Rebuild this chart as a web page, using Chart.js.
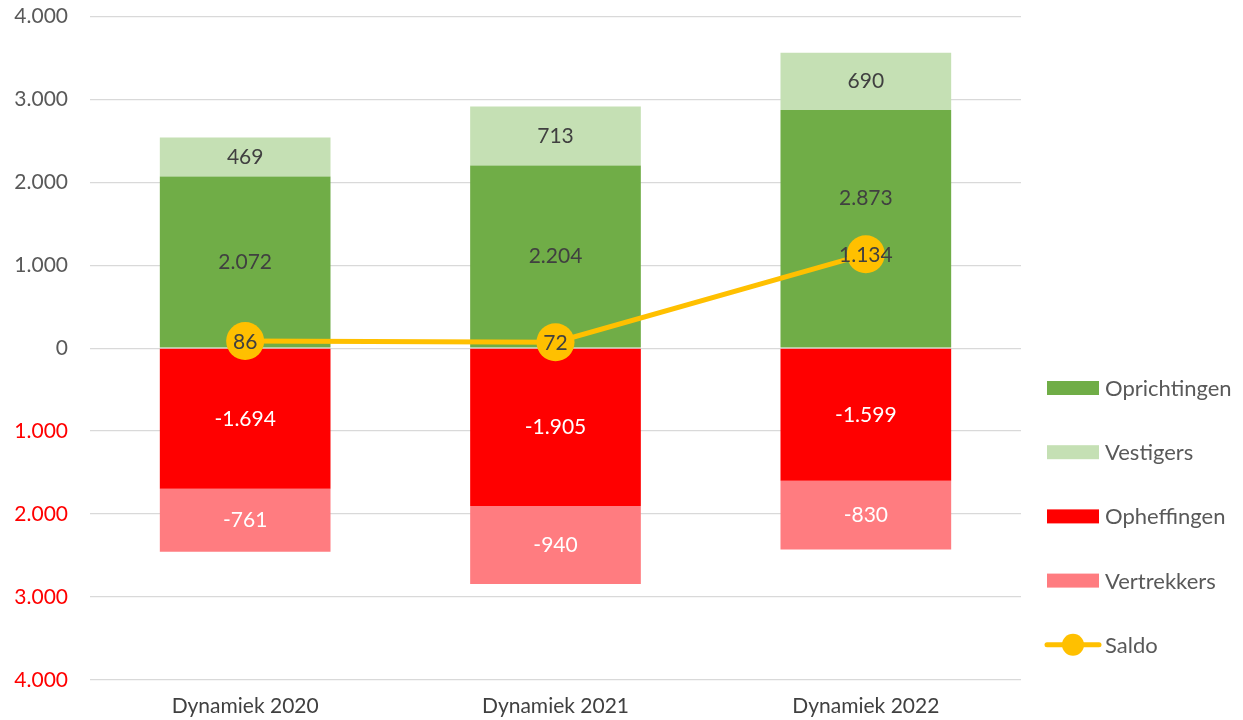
<!DOCTYPE html>
<html lang="nl">
<head>
<meta charset="UTF-8">
<title>Dynamiek</title>
<script src="https://cdn.jsdelivr.net/npm/chart.js"></script>
<style>
    body { margin: 0; background: #fff; }
    #wrap { width: 1243px; height: 720px; }
</style>
</head>
<body>
<div id="wrap"><canvas id="chart"></canvas></div>
<script>
const years = ['Dynamiek 2020', 'Dynamiek 2021', 'Dynamiek 2022'];
const oprichtingen = [2072, 2204, 2873];
const vestigers = [469, 713, 690];
const opheffingen = [-1694, -1905, -1599];
const vertrekkers = [-761, -940, -830];
const saldo = [86, 72, 1134];
const yTicks = [-4000, -3000, -2000, -1000, 0, 1000, 2000, 3000, 4000];

const FONT = 'Lato, "Open Sans", sans-serif';
const fmt = v => Math.abs(v).toString().replace(/\B(?=(\d{3})+(?!\d))/g, '.');
const fmtSigned = v => (v < 0 ? '-' : '') + fmt(v);

const labelColors = ['#404040', '#404040', '#ffffff', '#ffffff'];

// labels in the middle of each bar piece, saldo label on the marker
const labelPlugin = {
    id: 'labels',
    afterDatasetsDraw(chart) {
        const ctx = chart.ctx;
        ctx.save();
        ctx.font = '21px ' + FONT;
        ctx.textAlign = 'center';
        ctx.textBaseline = 'middle';
        const lineMeta = chart.getDatasetMeta(4);
        for (let d = 0; d < 4; d++) {
            const meta = chart.getDatasetMeta(d);
            meta.data.forEach((bar, i) => {
                const v = chart.data.datasets[d].data[i];
                let y = (bar.y + bar.base) / 2;
                const pt = lineMeta.data[i];
                if (Math.abs(y - pt.y) < 40) y = pt.y - 56;
                ctx.fillStyle = labelColors[d];
                ctx.fillText(fmtSigned(v), bar.x, y);
            });
        }
        lineMeta.data.forEach((pt, i) => {
            ctx.fillStyle = '#404040';
            ctx.fillText(fmtSigned(saldo[i]), pt.x, pt.y + 1);
        });
        ctx.restore();
    }
};

// legend on the right like excel
const legendPlugin = {
    id: 'sideLegend',
    afterDraw(chart) {
        const ctx = chart.ctx;
        ctx.save();
        ctx.font = '22px ' + FONT;
        ctx.textBaseline = 'middle';
        chart.data.datasets.forEach((ds, k) => {
            const y = 388 + k * 64.2;
            if (ds.type === 'line') {
                ctx.strokeStyle = ds.borderColor;
                ctx.lineWidth = 5;
                ctx.lineCap = 'round';
                ctx.beginPath();
                ctx.moveTo(1047, y);
                ctx.lineTo(1099, y);
                ctx.stroke();
                ctx.fillStyle = ds.borderColor;
                ctx.beginPath();
                ctx.arc(1073, y, 11, 0, Math.PI * 2);
                ctx.fill();
            } else {
                ctx.fillStyle = ds.backgroundColor;
                ctx.fillRect(1047, y - 7, 52, 14);
            }
            ctx.fillStyle = '#595959';
            ctx.fillText(ds.label, 1105, y + 1);
        });
        ctx.restore();
    }
};

const ctx = document.getElementById('chart').getContext('2d');
new Chart(ctx, {
    data: {
        labels: years,
        datasets: [
            { type: 'bar', label: 'Oprichtingen', data: oprichtingen, backgroundColor: '#70ad47', order: 1 },
            { type: 'bar', label: 'Vestigers', data: vestigers, backgroundColor: '#c5e0b4', order: 1 },
            { type: 'bar', label: 'Opheffingen', data: opheffingen, backgroundColor: '#ff0000', order: 1 },
            { type: 'bar', label: 'Vertrekkers', data: vertrekkers, backgroundColor: '#ff7c80', order: 1 },
            {
                type: 'line', label: 'Saldo', data: saldo,
                borderColor: '#ffc000', backgroundColor: '#ffc000',
                borderWidth: 5, pointRadius: 19, pointBackgroundColor: '#ffc000',
                pointBorderWidth: 0, tension: 0, order: 0
            }
        ]
    },
    options: {
        responsive: true,
        maintainAspectRatio: false,
        animation: false,
        layout: { autoPadding: false, padding: { top: 0, right: 222, left: 0, bottom: -13 } },
        datasets: { bar: { categoryPercentage: 0.55, barPercentage: 1 } },
        plugins: { legend: { display: false }, tooltip: { enabled: false } },
        scales: {
            x: {
                stacked: true,
                grid: { display: false, drawTicks: false },
                border: { display: false },
                ticks: { color: '#404040', font: { family: FONT, size: 21 }, padding: 14 }
            },
            y: {
                stacked: true,
                min: -4000,
                max: 4000,
                afterBuildTicks: axis => { axis.ticks = yTicks.map(v => ({ value: v })); },
                afterFit: axis => { axis.width = 90; },
                grid: { color: '#d9d9d9', lineWidth: 1.3, drawTicks: true, tickLength: 18, tickColor: 'rgba(0,0,0,0)' },
                border: { display: false },
                ticks: {
                    padding: 4,
                    font: { family: FONT, size: 21 },
                    color: c => c.tick.value < 0 ? '#ff0000' : '#595959',
                    callback: v => fmt(v)
                }
            }
        }
    },
    plugins: [labelPlugin, legendPlugin]
});
</script>
</body>
</html>
